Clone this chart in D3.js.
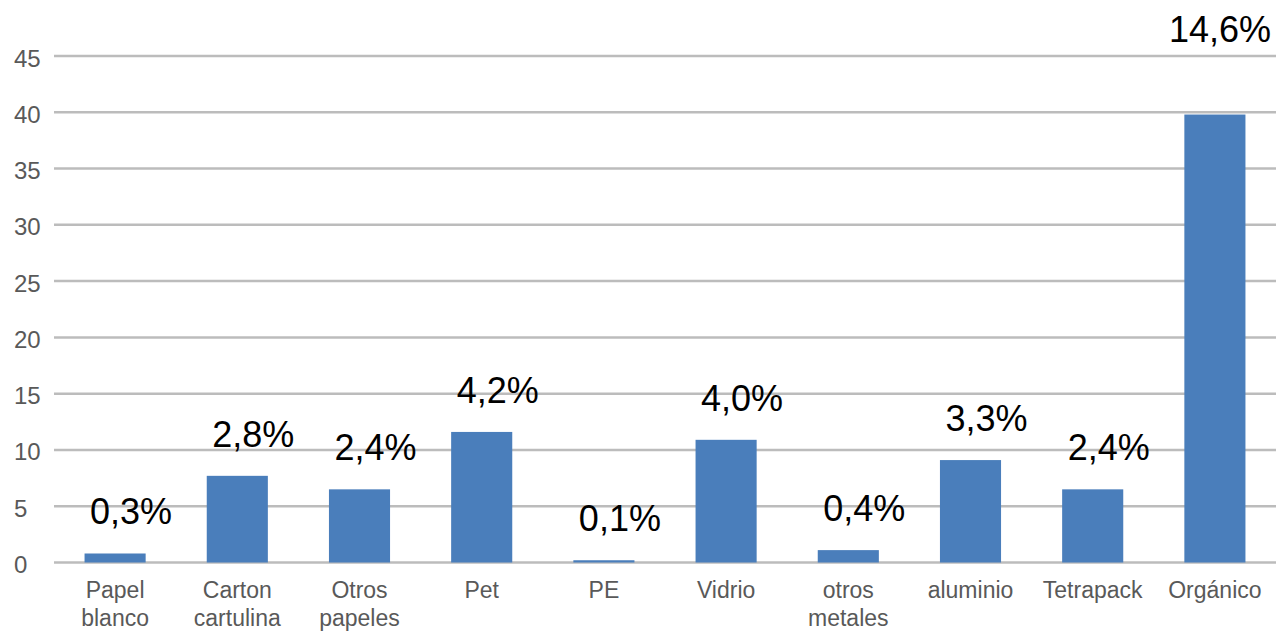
<!DOCTYPE html>
<html>
<head>
<meta charset="utf-8">
<script src="https://cdn.jsdelivr.net/npm/d3@7"></script>
<style>
  html, body { margin: 0; padding: 0; background: #ffffff; }
  svg { display: block; }
</style>
</head>
<body>
<svg id="chart" width="1278" height="632"></svg>
<script>
const categories = [
  ["Papel", "blanco"],
  ["Carton", "cartulina"],
  ["Otros", "papeles"],
  ["Pet"],
  ["PE"],
  ["Vidrio"],
  ["otros", "metales"],
  ["aluminio"],
  ["Tetrapack"],
  ["Orgánico"]
];
const values = [0.8, 7.7, 6.5, 11.6, 0.2, 10.9, 1.1, 9.1, 6.5, 39.8];
const percentLabels = ["0,3%", "2,8%", "2,4%", "4,2%", "0,1%", "4,0%", "0,4%", "3,3%", "2,4%", "14,6%"];
const yTicks = [0, 5, 10, 15, 20, 25, 30, 35, 40, 45];

const W = 1278, H = 632;
const svg = d3.select("#chart");
const keys = categories.map(c => c.join(" "));

const x = d3.scaleBand().domain(keys).range([54, 1276]).paddingInner(0.5).paddingOuter(0.25);
const y = d3.scaleLinear().domain([0, 45]).range([562.5, 56]);

// gridlines
svg.append("g").selectAll("line").data(yTicks).join("line")
  .attr("x1", 54).attr("x2", 1276)
  .attr("y1", d => y(d)).attr("y2", d => y(d))
  .attr("stroke", "#bcbcbc").attr("stroke-width", 2.5);

// y tick labels
svg.append("g").selectAll("text").data(yTicks).join("text")
  .attr("x", 14).attr("y", d => y(d) + 10.5)
  .attr("font-family", "Liberation Sans, Arial, sans-serif")
  .attr("font-size", 24).attr("fill", "#595959")
  .text(d => d);

// bars
svg.append("g").selectAll("rect").data(values).join("rect")
  .attr("x", (d, i) => x(keys[i]))
  .attr("width", x.bandwidth())
  .attr("y", d => y(d))
  .attr("height", d => Math.max(2, y(0) - y(d)))
  .attr("fill", "#4a7ebb");

// category labels
const cat = svg.append("g").selectAll("text").data(categories).join("text")
  .attr("x", (d, i) => x(keys[i]) + x.bandwidth() / 2)
  .attr("y", 598)
  .attr("text-anchor", "middle")
  .attr("font-family", "Liberation Sans, Arial, sans-serif")
  .attr("font-size", 23).attr("fill", "#595959");
cat.selectAll("tspan").data(d => d).join("tspan")
  .attr("x", function () { return d3.select(this.parentNode).attr("x"); })
  .attr("dy", (d, j) => j === 0 ? 0 : 28)
  .text(d => d);

// data labels
svg.append("g").selectAll("text").data(values).join("text")
  .attr("x", (d, i) => Math.min(x(keys[i]) + x.bandwidth() / 2 + 16, W - 8 - 50))
  .attr("y", d => {
    let b = y(d) - 29;
    if (b - 26 < y(45) + 6) b = y(45) - 14;
    return b;
  })
  .attr("text-anchor", "middle")
  .attr("font-family", "Liberation Sans, Arial, sans-serif")
  .attr("font-size", 36).attr("fill", "#000000")
  .text((d, i) => percentLabels[i]);
</script>
</body>
</html>
